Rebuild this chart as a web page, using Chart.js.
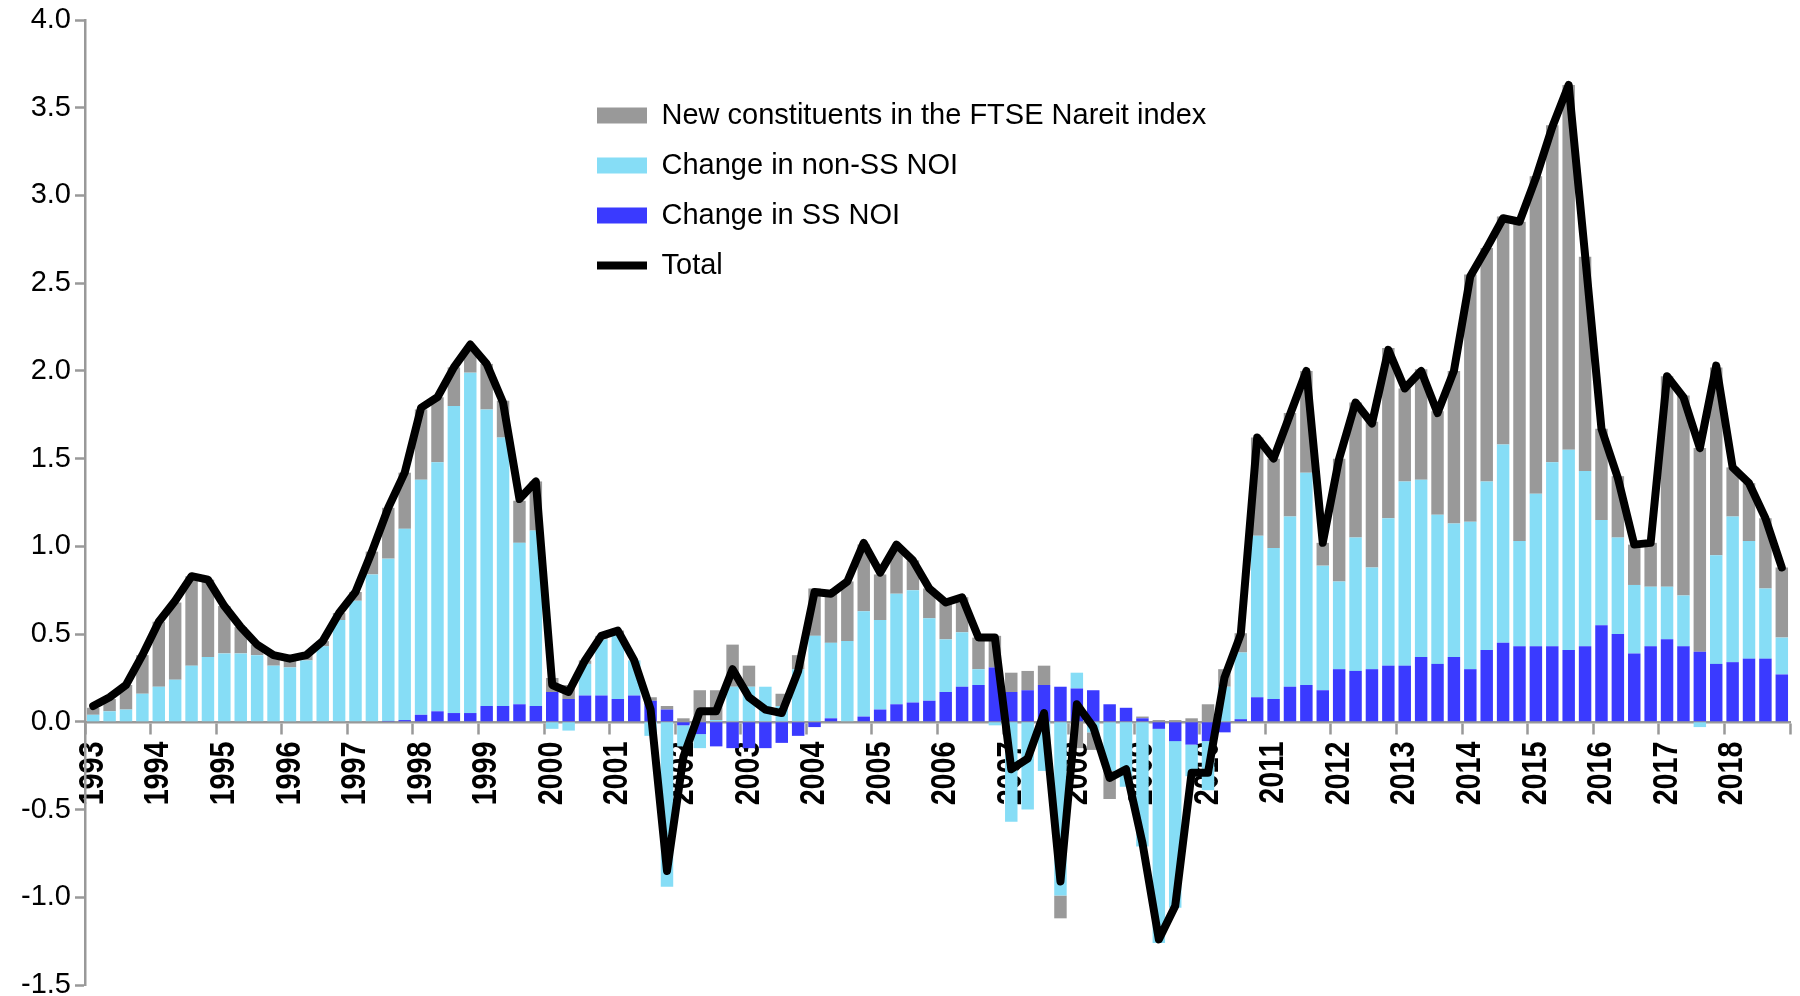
<!DOCTYPE html>
<html>
<head>
<meta charset="utf-8">
<title>REIT NOI contributions</title>
<script src="https://cdn.jsdelivr.net/npm/chart.js@4.4.1/dist/chart.umd.min.js"></script>
<style>
    html, body { margin: 0; padding: 0; background: #ffffff; }
    #wrap { position: relative; width: 1800px; height: 996px; }
</style>
</head>
<body>
<div id="wrap"><canvas id="noiChart"></canvas></div>
<script>
// One label per year, on the first quarter
const years = [1993, 1994, 1995, 1996, 1997, 1998, 1999, 2000, 2001, 2002, 2003, 2004, 2005,
               2006, 2007, 2008, 2009, 2010, 2011, 2012, 2013, 2014, 2015, 2016, 2017, 2018];

// Quarterly values, 1993 Q1 to 2018 Q4
const ssNoi = [
    0, 0, 0, 0,             0, 0, 0, 0,
    0, 0, 0, 0,             0, 0, 0, 0,
    0, 0, 0.005, 0.01,      0.04, 0.06, 0.05, 0.05,
    0.09, 0.09, 0.10, 0.09, 0.17, 0.13, 0.15, 0.15,
    0.13, 0.15, 0.12, 0.07, -0.02, -0.07, -0.14, -0.15,
    -0.15, -0.15, -0.12, -0.08, -0.03, 0.02, 0, 0.03,
    0.07, 0.10, 0.11, 0.12, 0.17, 0.20, 0.21, 0.31,
    0.17, 0.18, 0.21, 0.20, 0.19, 0.18, 0.10, 0.08,
    0.02, -0.04, -0.11, -0.13, -0.11, -0.06, 0.015, 0.14,
    0.13, 0.20, 0.21, 0.18, 0.30, 0.29, 0.30, 0.32,
    0.32, 0.37, 0.33, 0.37, 0.30, 0.41, 0.45, 0.43,
    0.43, 0.43, 0.41, 0.43, 0.55, 0.50, 0.39, 0.43,
    0.47, 0.43, 0.40, 0.33, 0.34, 0.36, 0.36, 0.27
];

const nonSsNoi = [
    0.04, 0.06, 0.07, 0.16, 0.20, 0.24, 0.32, 0.37,
    0.39, 0.39, 0.38, 0.32, 0.31, 0.35, 0.43, 0.58,
    0.69, 0.84, 0.925, 1.09, 1.34, 1.42, 1.75, 1.94,
    1.69, 1.53, 0.92, 1.00, -0.04, -0.05, 0.18, 0.32,
    0.37, 0.20, -0.08, -0.94, -0.12, -0.08, 0.01, 0.20,
    0.20, 0.20, 0.09, 0.30, 0.49, 0.43, 0.46, 0.60,
    0.51, 0.63, 0.64, 0.47, 0.30, 0.31, 0.09, -0.02,
    -0.57, -0.50, -0.28, -0.99, 0.09, -0.06, -0.28, -0.37,
    -0.71, -1.22, -0.95, -0.18, -0.28, 0.20, 0.38, 0.92,
    0.86, 0.97, 1.21, 0.71, 0.50, 0.76, 0.58, 0.84,
    1.05, 1.01, 0.85, 0.76, 0.84, 0.96, 1.13, 0.60,
    0.87, 1.05, 1.14, 1.00, 0.60, 0.55, 0.39, 0.34,
    0.30, 0.29, -0.03, 0.62, 0.83, 0.67, 0.40, 0.21
];

const newConstituents = [
    0.04, 0.07, 0.14, 0.22, 0.37, 0.44, 0.51, 0.44,
    0.27, 0.15, 0.06, 0.06, 0.06, 0.04, 0.03, 0.04,
    0.05, 0.13, 0.29, 0.32, 0.40, 0.37, 0.22, 0.14,
    0.26, 0.21, 0.24, 0.28, 0.08, 0.08, 0.02, 0.02,
    0.02, 0, 0.02, 0.02, 0.02, 0.18, 0.17, 0.24,
    0.12, 0, 0.07, 0.08, 0.27, 0.28, 0.34, 0.38,
    0.26, 0.26, 0.17, 0.17, 0.21, 0.20, 0.18, 0.18,
    0.11, 0.11, 0.11, -0.13, -0.15, -0.10, -0.16, 0,
    0.01, 0.01, 0.01, 0.02, 0.10, 0.10, 0.11, 0.56,
    0.51, 0.59, 0.58, 0.13, 0.70, 0.77, 0.83, 0.97,
    0.53, 0.63, 0.59, 0.87, 1.41, 1.33, 1.30, 1.82,
    1.81, 1.92, 2.08, 1.22, 0.52, 0.35, 0.23, 0.25,
    1.20, 1.14, 1.16, 1.07, 0.28, 0.33, 0.40, 0.40
];

const totalChange = [
    0.09, 0.14, 0.21, 0.38, 0.57, 0.69, 0.83, 0.81,
    0.66, 0.54, 0.44, 0.38, 0.36, 0.38, 0.46, 0.62,
    0.74, 0.97, 1.22, 1.42, 1.79, 1.85, 2.02, 2.15,
    2.04, 1.82, 1.27, 1.37, 0.21, 0.17, 0.35, 0.49,
    0.52, 0.35, 0.07, -0.85, -0.20, 0.06, 0.06, 0.30,
    0.14, 0.07, 0.05, 0.29, 0.74, 0.73, 0.80, 1.02,
    0.85, 1.01, 0.92, 0.76, 0.68, 0.71, 0.48, 0.48,
    -0.27, -0.21, 0.05, -0.91, 0.10, -0.03, -0.32, -0.27,
    -0.69, -1.24, -1.05, -0.29, -0.29, 0.25, 0.50, 1.62,
    1.50, 1.75, 2.00, 1.02, 1.50, 1.82, 1.70, 2.12,
    1.90, 2.00, 1.76, 2.00, 2.54, 2.70, 2.87, 2.85,
    3.10, 3.39, 3.63, 2.66, 1.67, 1.39, 1.01, 1.02,
    1.97, 1.85, 1.56, 2.03, 1.45, 1.36, 1.16, 0.88
];

// Category labels: year on Q1, blank for the other quarters
const quarterLabels = [];
years.forEach(year => {
    quarterLabels.push(String(year), '', '', '');
});

const textFont = '"Liberation Sans", Arial, sans-serif';
const axisGrey = '#999999';

// Move the legend into the empty space of the plot area
const legendPlacer = {
    id: 'legendPlacer',
    afterLayout(chart) {
        const legend = chart.legend;
        if (!legend) return;
        legend.left = 576;
        legend.top = 80;
    }
};

// Squeeze the rotated year labels along their length (narrow bold look)
const narrowLabels = {
    id: 'narrowLabels',
    afterUpdate(chart) {
        const xScale = chart.scales.x;
        if (!xScale || xScale._narrowPatched) return;
        const drawLabels = xScale.drawLabels;
        xScale.drawLabels = function(area) {
            const zeroY = chart.scales.y.getPixelForValue(0);
            const c = this.ctx;
            c.save();
            c.translate(0, zeroY);
            c.scale(1, 0.82);
            c.translate(0, -zeroY);
            drawLabels.call(this, area);
            c.restore();
        };
        xScale._narrowPatched = true;
    }
};

const ctx = document.getElementById('noiChart').getContext('2d');
const noiChart = new Chart(ctx, {
    type: 'bar',
    data: {
        labels: quarterLabels,
        datasets: [
            {
                type: 'line',
                label: 'Total',
                data: totalChange,
                borderColor: '#000000',
                backgroundColor: '#000000',
                borderWidth: 8,
                borderJoinStyle: 'round',
                borderCapStyle: 'round',
                pointRadius: 0,
                tension: 0,
                stack: 'total',
                order: 0
            },
            {
                label: 'Change in SS NOI',
                data: ssNoi,
                backgroundColor: '#3a3aff',
                order: 1
            },
            {
                label: 'Change in non-SS NOI',
                data: nonSsNoi,
                backgroundColor: '#86ddf6',
                order: 2
            },
            {
                label: 'New constituents in the FTSE Nareit index',
                data: newConstituents,
                backgroundColor: '#999999',
                order: 3
            }
        ]
    },
    options: {
        responsive: true,
        maintainAspectRatio: false,
        animation: false,
        layout: {
            padding: { left: 0, right: 10, top: 20, bottom: 11 }
        },
        datasets: {
            bar: {
                categoryPercentage: 1.0,
                barPercentage: 0.76,
                borderWidth: 0
            }
        },
        scales: {
            x: {
                stacked: true,
                position: { y: 0 },
                grid: {
                    display: true,
                    offset: true,
                    drawOnChartArea: false,
                    drawTicks: true,
                    tickLength: 11,
                    tickWidth: 2.5,
                    tickColor: (c) => (c.type === 'scale' || c.index % 4 === 0) ? axisGrey : 'rgba(0,0,0,0)'
                },
                border: { display: true, color: axisGrey, width: 2.5 },
                ticks: {
                    autoSkip: false,
                    minRotation: 90,
                    maxRotation: 90,
                    padding: 13,
                    color: '#000000',
                    font: { family: textFont, size: 35, weight: 'bold' }
                },
                afterFit(scale) {
                    scale.paddingLeft = 0;
                    scale.paddingRight = 0;
                }
            },
            y: {
                stacked: true,
                min: -1.5,
                max: 4.0,
                grid: {
                    display: true,
                    drawOnChartArea: false,
                    drawTicks: true,
                    tickLength: 10,
                    tickWidth: 2.5,
                    tickColor: axisGrey
                },
                border: { display: true, color: axisGrey, width: 2.5 },
                ticks: {
                    stepSize: 0.5,
                    padding: 4,
                    color: '#000000',
                    font: { family: textFont, size: 29 },
                    callback: (value) => value.toFixed(1)
                },
                afterFit(scale) {
                    scale.width = 85;
                    scale.paddingTop = 0;
                    scale.paddingBottom = 0;
                }
            }
        },
        plugins: {
            legend: {
                display: true,
                position: 'chartArea',
                align: 'start',
                reverse: true,
                labels: {
                    usePointStyle: true,
                    pointStyleWidth: 50,
                    boxWidth: 50,
                    boxHeight: 16,
                    padding: 21,
                    color: '#000000',
                    font: { family: textFont, size: 29 },
                    generateLabels(chart) {
                        const items = Chart.defaults.plugins.legend.labels.generateLabels(chart);
                        items.forEach(item => {
                            const ds = chart.data.datasets[item.datasetIndex];
                            item.pointStyle = ds.type === 'line' ? 'line' : 'rect';
                        });
                        return items;
                    }
                }
            },
            tooltip: { enabled: false }
        }
    },
    plugins: [legendPlacer, narrowLabels]
});
</script>
</body>
</html>
